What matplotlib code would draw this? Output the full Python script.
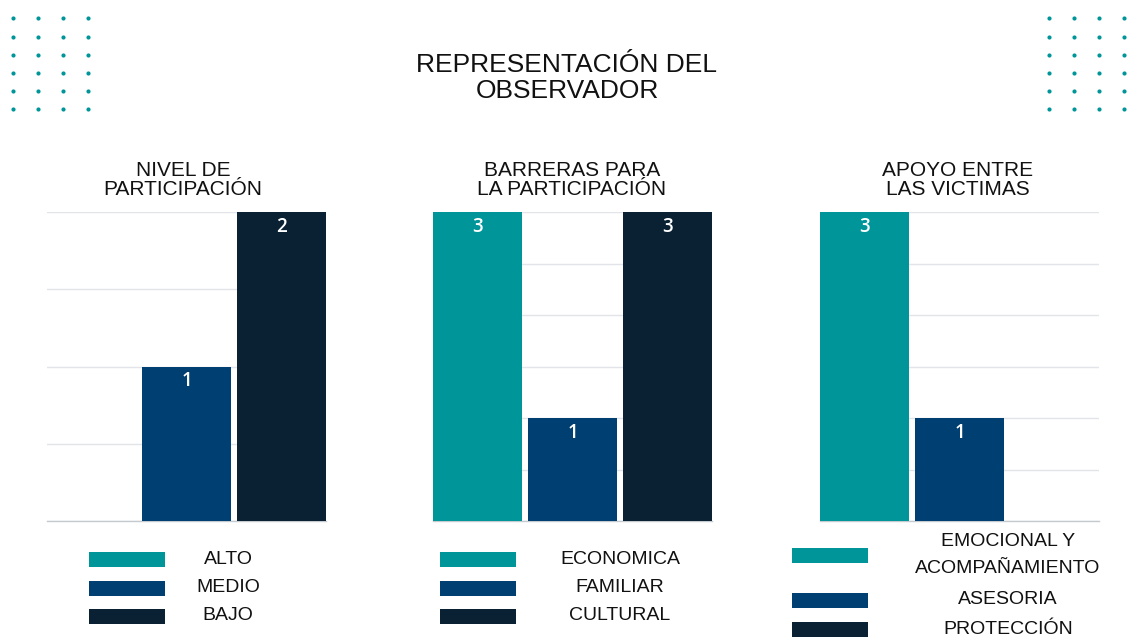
import matplotlib
matplotlib.use("Agg")
import matplotlib.pyplot as plt
from matplotlib.patches import Rectangle
import numpy as np

# ---------------- data ----------------
title = "REPRESENTACIÓN DEL\nOBSERVADOR"
panel_titles = ["NIVEL DE\nPARTICIPACIÓN", "BARRERAS PARA\nLA PARTICIPACIÓN", "APOYO ENTRE\nLAS VICTIMAS"]
cats_1 = ["ALTO", "MEDIO", "BAJO"]
vals_1 = [0, 1, 2]
cats_2 = ["ECONOMICA", "FAMILIAR", "CULTURAL"]
vals_2 = [3, 1, 3]
cats_3 = ["EMOCIONAL Y\nACOMPAÑAMIENTO", "ASESORIA", "PROTECCIÓN"]
vals_3 = [3, 1, 0]
ymax = [2, 3, 3]

colors = ["#009598", "#003F72", "#0A2033"]
TEAL = "#009598"
W, H = 1132, 637

plt.rcParams['font.family'] = ['Liberation Sans', 'DejaVu Sans']
fig = plt.figure(figsize=(W / 100, H / 100), dpi=100)
fig.patch.set_facecolor("white")

# overlay axes in pixel coords for decorations / legends
ov = fig.add_axes([0, 0, 1, 1], zorder=5)
ov.set_xlim(0, W)
ov.set_ylim(H, 0)
ov.axis("off")
ov.patch.set_alpha(0)

# decorative dot grids
gx_l = np.array([13, 38, 63, 88])
gx_r = np.array([1049, 1074, 1099, 1124])
gy = np.array([18, 36.5, 55, 73, 91, 109])
for gx in (gx_l, gx_r):
    X, Y = np.meshgrid(gx, gy)
    ov.scatter(X.ravel(), Y.ravel(), s=9, color=TEAL, linewidths=0)

ov.text(567, 78, title, ha="center", va="center", fontsize=19,
        color="#111111", linespacing=1.08)

panels = [(cats_1, vals_1), (cats_2, vals_2), (cats_3, vals_3)]
lefts = [47, 433, 820]
ax_w, ax_top, ax_bot = 279, 212, 521
bw = 0.94
title_cx = [183, 572, 958]

for i, ((cats, vals), left) in enumerate(zip(panels, lefts)):
    ax = fig.add_axes([left / W, (H - ax_bot) / H, ax_w / W, (ax_bot - ax_top) / H])
    x = np.arange(len(cats))
    bars = ax.bar(x, vals, width=bw, color=colors, zorder=3)
    ax.set_xlim(-bw / 2, len(cats) - 1 + bw / 2)
    ax.set_ylim(0, ymax[i])
    ax.set_yticks(np.arange(0, ymax[i] + 0.01, 0.5))
    ax.yaxis.grid(True, color="#E1E4E8", linewidth=1.0, zorder=0)
    ax.set_axisbelow(True)
    for s in ["top", "right", "left"]:
        ax.spines[s].set_visible(False)
    ax.spines["bottom"].set_color("#C5CACF")
    ax.spines["bottom"].set_linewidth(1.0)
    ax.tick_params(left=False, bottom=False, labelleft=False, labelbottom=False)
    for b, v in zip(bars, vals):
        if v > 0:
            ax.annotate(str(v), (b.get_x() + b.get_width() / 2, v),
                        xytext=(0, -15), textcoords="offset pixels",
                        ha="center", va="center", color="white", fontsize=13.5,
                        family=["Open Sans", "DejaVu Sans"], fontweight="semibold")
    ov.text(title_cx[i], 180, panel_titles[i], ha="center", va="center",
            fontsize=15, color="#111111", linespacing=1.05)

# legends
leg_patch_x = [89, 440, 792]
leg_text_x = [228, 620, 1008]
leg_rows = [[559, 588, 616], [559, 588, 616], [555, 600, 629]]
for i, (cats, vals) in enumerate(panels):
    for j, c in enumerate(cats):
        y = leg_rows[i][j]
        ov.add_patch(Rectangle((leg_patch_x[i], y - 7.5), 76, 15, color=colors[j], linewidth=0))
        ov.text(leg_text_x[i], y, c, ha="center", va="center", fontsize=14,
                color="#111111", linespacing=1.7)

fig.savefig("out.png", dpi=100, facecolor="white")
